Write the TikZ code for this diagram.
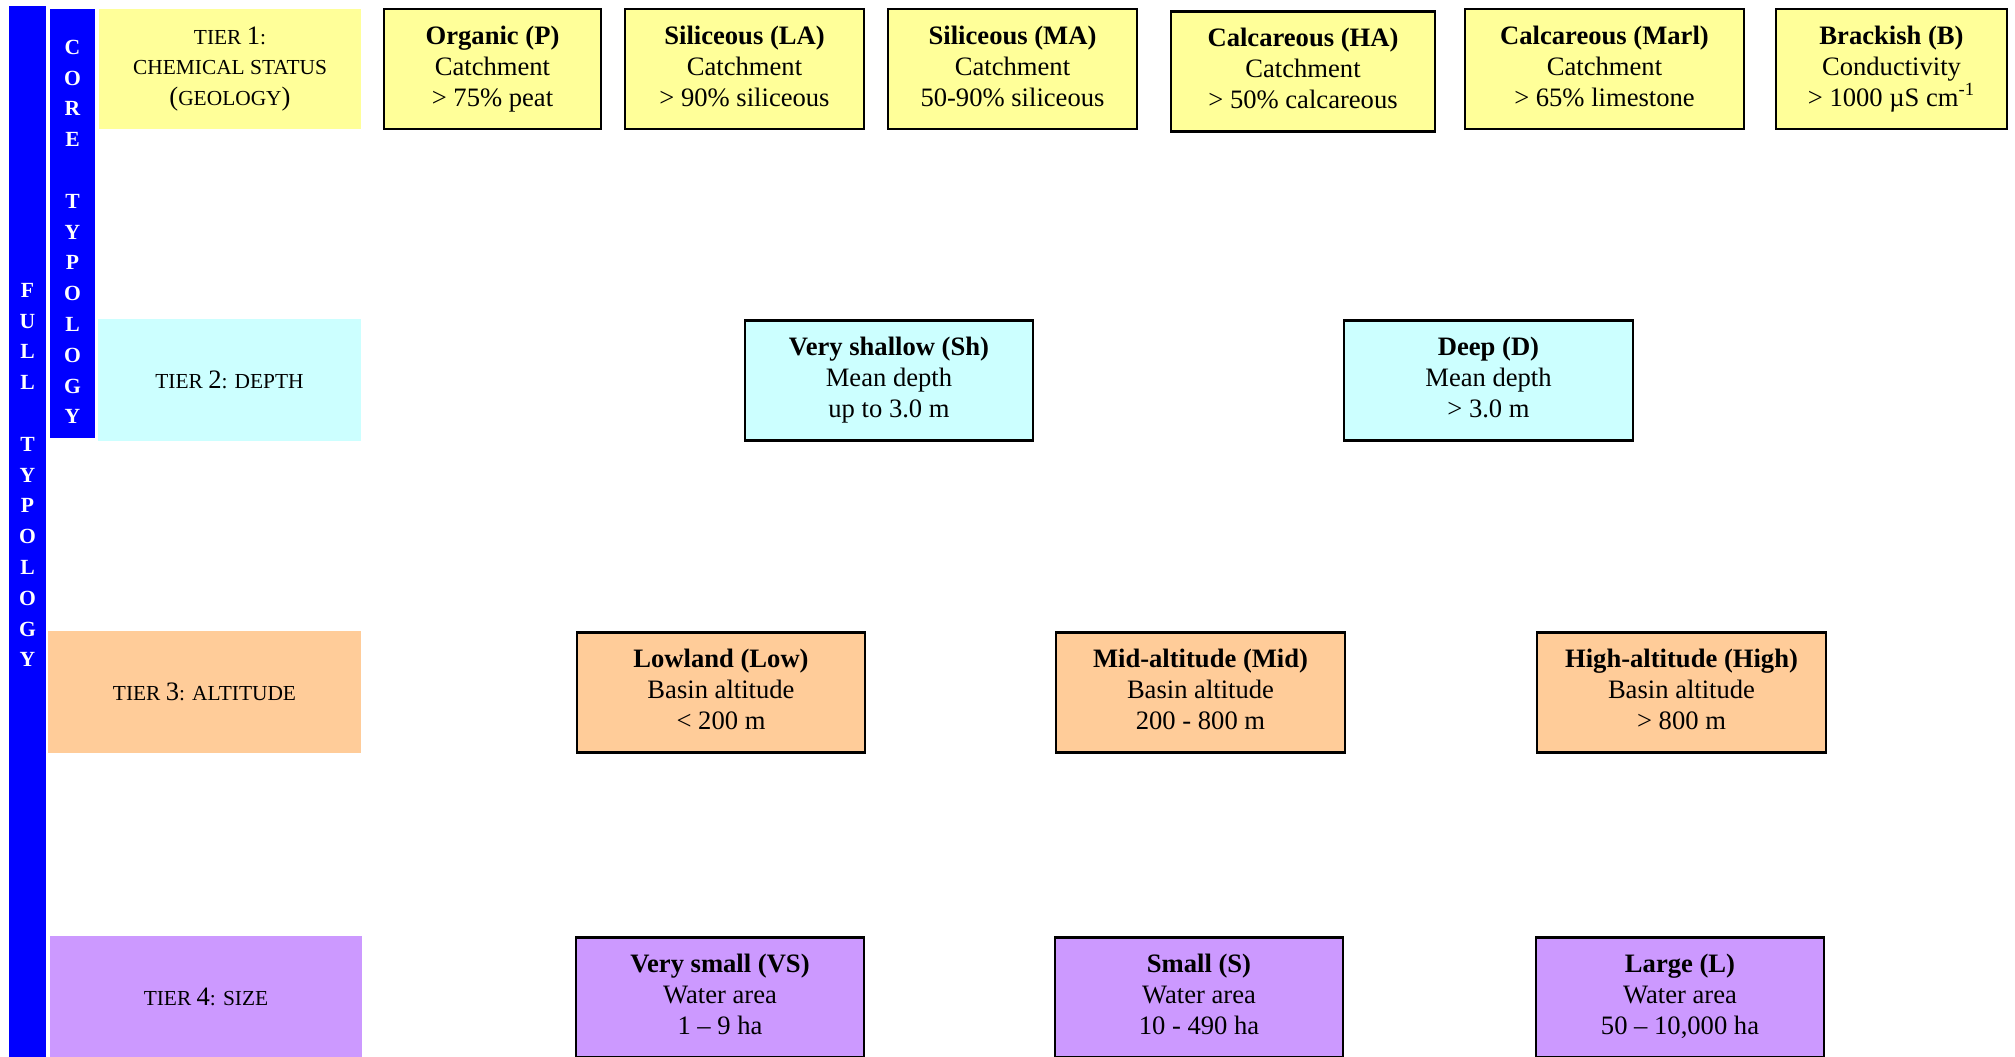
\documentclass[tikz,border=0pt]{standalone}
\usepackage{fontspec}
\setmainfont{Liberation Serif}
\usetikzlibrary{positioning}

\definecolor{tierone}{HTML}{FFFF99}
\definecolor{tiertwo}{HTML}{CCFFFF}
\definecolor{tierthree}{HTML}{FFCC99}
\definecolor{tierfour}{HTML}{CC99FF}
\definecolor{barblue}{HTML}{0000FF}

\newcommand{\tnum}[1]{{\fontsize{13.3}{15.4}\selectfont #1}}
\newcommand{\typetext}[3]{\strut\textbf{#1}\\#2\\#3\strut}

\begin{document}
\begin{tikzpicture}[x=0.5pt,y=-0.5pt,
  tierlabel/.style={inner sep=0pt, align=center, font=\fontsize{10.7}{15.2}\selectfont},
  typebox/.style={draw, line width=1.1pt, inner sep=0pt, minimum height=60pt, align=center, font=\fontsize{13.3}{15.5}\selectfont},
  barletters/.style={text=white, inner sep=0pt, align=center, font=\bfseries\fontsize{10.8}{15.4}\selectfont}]
\useasboundingbox (0,0) rectangle (2015,1056);

% typology bars
\fill[barblue] (9,6) rectangle (46,1060);
\fill[barblue] (50,9) rectangle (95,438);
\node[barletters] (full) at (27.5,475) {F\\U\\L\\L\\[15.4pt]T\\Y\\P\\O\\L\\O\\G\\Y};
\node[barletters] (core) at (72.5,232) {C\\O\\R\\E\\[15.4pt]T\\Y\\P\\O\\L\\O\\G\\Y};

% tier labels
\node[tierlabel, fill=tierone, minimum width=131pt, minimum height=60pt] (t1) at (230,69) {TIER \tnum{1}:\\CHEMICAL STATUS\\\tnum{(}GEOLOGY\tnum{)}};
\node[tierlabel, fill=tiertwo, minimum width=131.5pt, minimum height=61pt] (t2) at (229.5,380) {TIER \tnum{2}: DEPTH};
\node[tierlabel, fill=tierthree, minimum width=156.5pt, minimum height=61pt] (t3) at (204.5,692) {TIER \tnum{3}: ALTITUDE};
\node[tierlabel, fill=tierfour, minimum width=156pt, minimum height=61pt] (t4) at (206,997) {TIER \tnum{4}: SIZE};

% tier 1: chemical status
\node[typebox, fill=tierone, minimum width=108.5pt] (p) at (492.5,69) {\typetext{Organic (P)}{Catchment}{> 75\% peat}};
\node[typebox, fill=tierone, minimum width=119.5pt] (la) at (744.5,69) {\typetext{Siliceous (LA)}{Catchment}{> 90\% siliceous}};
\node[typebox, fill=tierone, minimum width=124.5pt] (ma) at (1012.5,69) {\typetext{Siliceous (MA)}{Catchment}{50-90\% siliceous}};
\node[typebox, fill=tierone, minimum width=132pt] (ha) at (1303,71.5) {\typetext{Calcareous (HA)}{Catchment}{> 50\% calcareous}};
\node[typebox, fill=tierone, minimum width=139.5pt] (marl) at (1604.5,69) {\typetext{Calcareous (Marl)}{Catchment}{> 65\% limestone}};
\node[typebox, fill=tierone, minimum width=115.5pt] (b) at (1891.5,69) {\typetext{Brackish (B)}{Conductivity}{> 1000 µS cm\textsuperscript{-1}}};

% tier 2: depth
\node[typebox, fill=tiertwo, minimum width=144pt] (sh) at (889,380.5) {\typetext{Very shallow (Sh)}{Mean depth}{up to 3.0 m}};
\node[typebox, fill=tiertwo, minimum width=144.5pt] (d) at (1488.5,380.5) {\typetext{Deep (D)}{Mean depth}{> 3.0 m}};

% tier 3: altitude
\node[typebox, fill=tierthree, minimum width=144pt] (low) at (721,692.5) {\typetext{Lowland (Low)}{Basin altitude}{< 200 m}};
\node[typebox, fill=tierthree, minimum width=144.5pt] (mid) at (1200.5,692.5) {\typetext{Mid-altitude (Mid)}{Basin altitude}{200 - 800 m}};
\node[typebox, fill=tierthree, minimum width=144.5pt] (high) at (1681.5,692.5) {\typetext{High-altitude (High)}{Basin altitude}{> 800 m}};

% tier 4: size
\node[typebox, fill=tierfour, minimum width=144pt] (vs) at (720,997.5) {\typetext{Very small (VS)}{Water area}{1 – 9 ha}};
\node[typebox, fill=tierfour, minimum width=144pt] (s) at (1199,997.5) {\typetext{Small (S)}{Water area}{10 - 490 ha}};
\node[typebox, fill=tierfour, minimum width=144pt] (l) at (1680,997.5) {\typetext{Large (L)}{Water area}{50 – 10,000 ha}};
\end{tikzpicture}
\end{document}
